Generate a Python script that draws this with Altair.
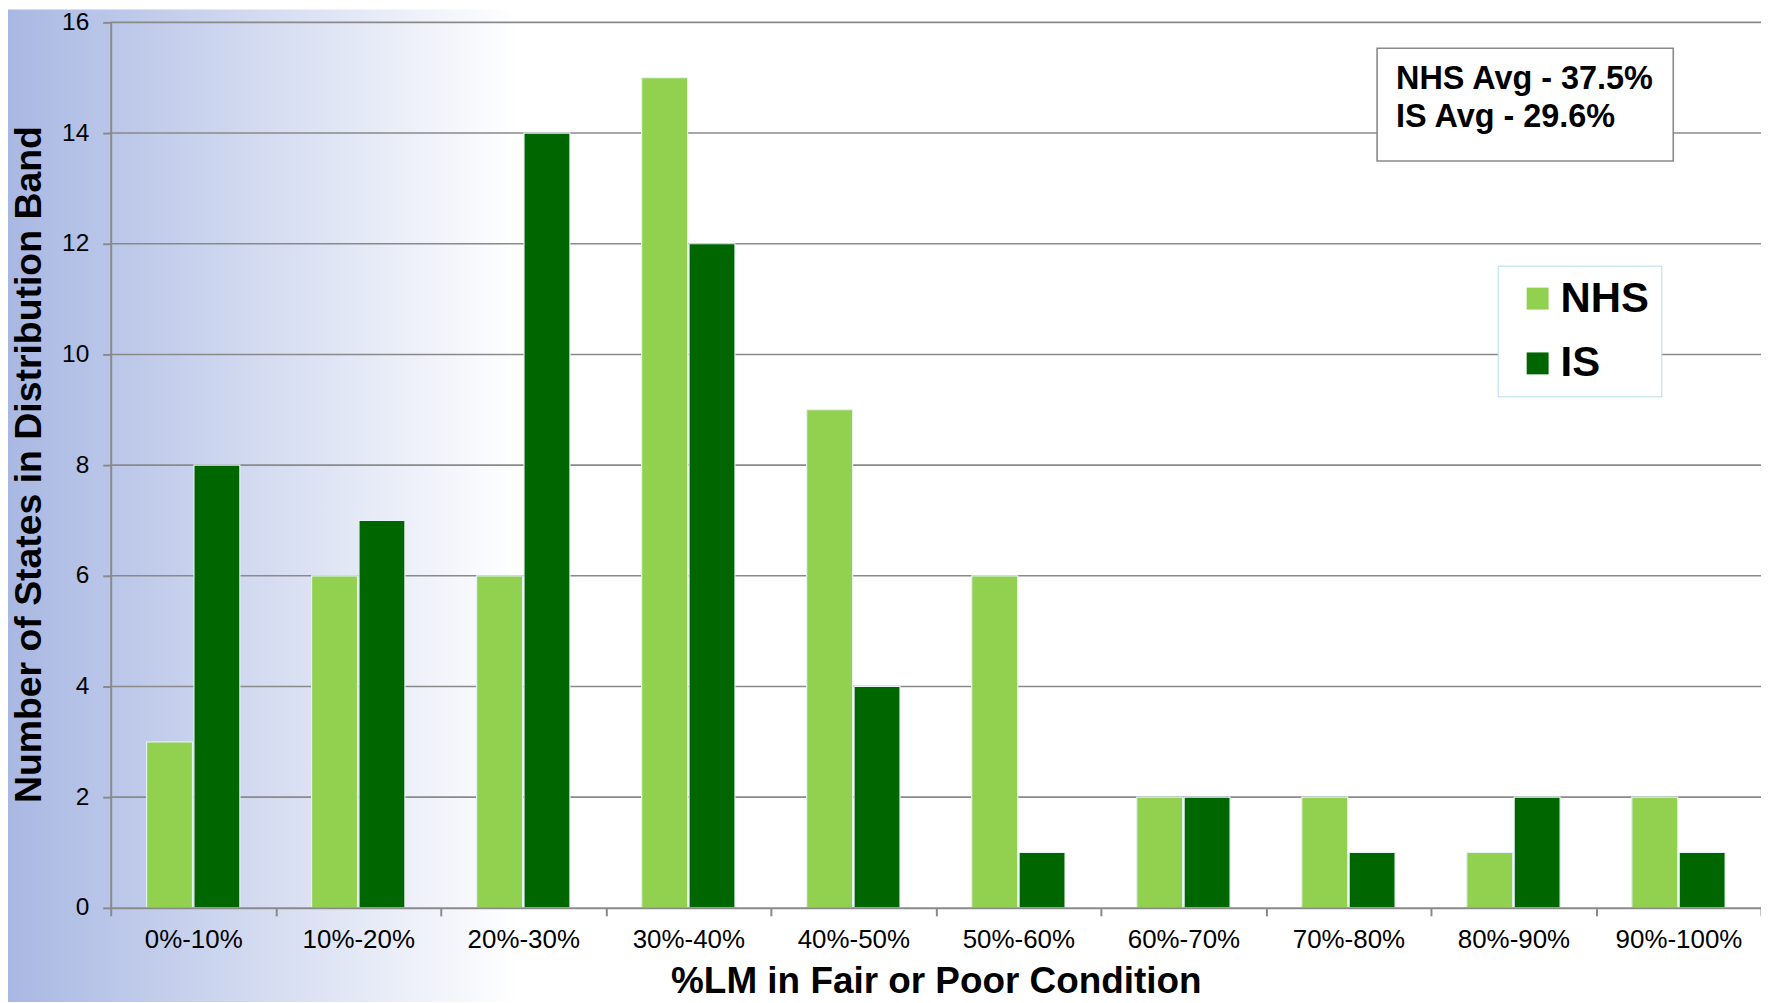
import altair as alt
import pandas as pd

categories = ["0%-10%", "10%-20%", "20%-30%", "30%-40%", "40%-50%",
              "50%-60%", "60%-70%", "70%-80%", "80%-90%", "90%-100%"]
series = ["NHS", "IS"]
nhs_counts = [3, 6, 6, 15, 9, 6, 2, 2, 1, 2]
is_counts = [8, 7, 14, 12, 4, 1, 2, 1, 2, 1]
y_ticks = [0, 2, 4, 6, 8, 10, 12, 14, 16]
note_lines = ["NHS Avg - 37.5%", "IS Avg - 29.6%"]
colors = ["#92d050", "#006600"]

rows = []
for c, a, b in zip(categories, nhs_counts, is_counts):
    rows.append({"band": c, "series": "NHS", "count": a})
    rows.append({"band": c, "series": "IS", "count": b})
df = pd.DataFrame(rows)

W, H = 1655, 888
TOP = 13
FONT = "Liberation Sans"
GRAY = "#8a8a8a"
YTITLE = "Number of States in Distribution Band"

yscale = alt.Scale(domain=[0, 16], nice=False)
yaxis = alt.Axis(values=y_ticks, grid=False, domainColor=GRAY, domainWidth=2,
                 tickColor=GRAY, tickWidth=2, tickSize=8,
                 labelFont=FONT, labelFontSize=24.5, labelColor="black", labelPadding=14,
                 titleFont=FONT, titleFontSize=37.5, titleFontWeight="bold", titleColor="black",
                 titleX=-81, titleY=H / 2 - 1, titleBaseline="middle", titleAlign="center",
                 titleAngle=270, zindex=1)

bg = alt.Chart(alt.Data(values=[{"a": 1}])).mark_rect(
    fill=alt.Gradient(gradient="linear",
                      stops=[alt.GradientStop(color="#a9b8e3", offset=0),
                             alt.GradientStop(color="#ffffff", offset=0.29),
                             alt.GradientStop(color="#ffffff", offset=1)],
                      x1=0, x2=1, y1=0, y2=0)
).encode(x=alt.value(-103), x2=alt.value(W + 2), y=alt.value(-TOP), y2=alt.value(H + 100))

grid = alt.Chart(alt.Data(values=[{"count": t} for t in y_ticks[1:]])).mark_rule(
    color=GRAY, strokeWidth=1.6
).encode(y=alt.Y("count:Q", scale=yscale, axis=yaxis, title=YTITLE))

bars = alt.Chart(df).mark_bar(stroke="#e4f1f5", strokeWidth=1.2).encode(
    x=alt.X("band:N", sort=categories,
            scale=alt.Scale(paddingInner=0, paddingOuter=0),
            title="%LM in Fair or Poor Condition",
            axis=alt.Axis(labelAngle=0, tickBand="extent", domainColor=GRAY, domainWidth=2,
                          tickColor=GRAY, tickWidth=2, tickSize=8,
                          labelFont=FONT, labelFontSize=26, labelColor="black", labelPadding=11,
                          titleFont=FONT, titleFontSize=37, titleFontWeight="bold",
                          titleColor="black", titleX=W / 2, titleY=74,
                          titleBaseline="middle", titleAlign="center", zindex=1)),
    xOffset=alt.XOffset("series:N", sort=series,
                        scale=alt.Scale(paddingInner=0.03, paddingOuter=0.757)),
    y=alt.Y("count:Q", scale=yscale, axis=yaxis, title=YTITLE),
    color=alt.Color("series:N", sort=series,
                    scale=alt.Scale(domain=series, range=colors),
                    legend=alt.Legend(title=None, orient="none", legendX=1391, legendY=244,
                                      direction="vertical", symbolType="square",
                                      symbolSize=484, symbolStrokeWidth=0, symbolOffset=7,
                                      labelFont=FONT, labelFontSize=42, labelFontWeight="bold",
                                      labelColor="black", labelOffset=2, padding=12,
                                      rowPadding=23, fillColor="white",
                                      strokeColor="#b7dde8")),
)

note_box = alt.Chart(alt.Data(values=[{"a": 1}])).mark_rect(
    fill="white", stroke=GRAY, strokeWidth=1.6
).encode(x=alt.value(1270), x2=alt.value(1567), y=alt.value(26), y2=alt.value(139))

note_text = alt.Chart(alt.Data(values=[{"a": 1}])).mark_text(
    text=note_lines, align="left", baseline="alphabetic", font=FONT, fontSize=32.5,
    fontWeight="bold", lineHeight=38, color="black"
).encode(x=alt.value(1289), y=alt.value(67))

chart = alt.layer(bg, grid, bars, note_box, note_text).properties(
    width=W, height=H,
    padding={"left": 103, "top": TOP, "right": 0, "bottom": 93},
    autosize=alt.AutoSizeParams(type="none"),
).configure_view(stroke=None)

chart.save("out.html", embed_options={"renderer": "svg", "actions": False})
